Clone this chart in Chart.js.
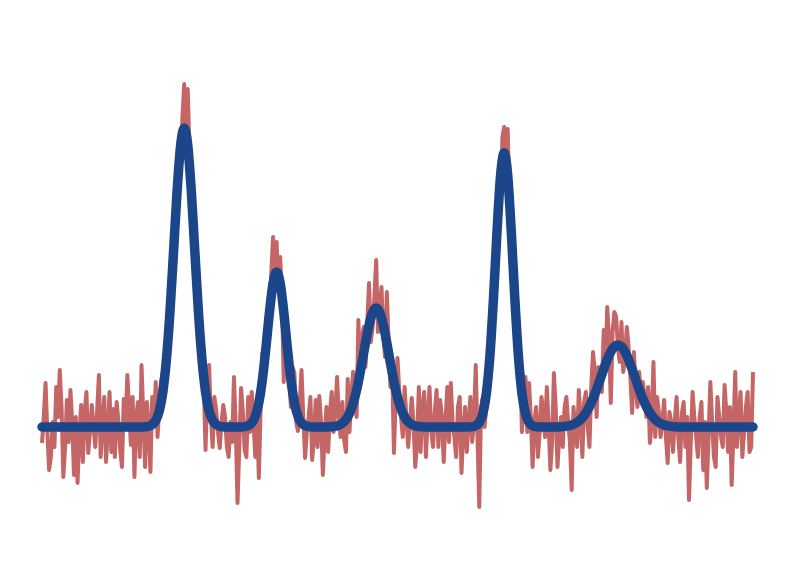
<!DOCTYPE html>
<html lang="en">
<head>
    <meta charset="UTF-8">
    <title>Noisy spectrum with Gaussian fit</title>
    <script src="https://cdn.jsdelivr.net/npm/chart.js"></script>
    <style>
        html, body {
            margin: 0;
            padding: 0;
            background: #ffffff;
        }

        .chart-container {
            width: 795px;
            height: 585px;
        }
    </style>
</head>
<body>
    <div class="chart-container">
        <canvas id="spectrumChart"></canvas>
    </div>

    <script>
        // sample spacing on the x axis (0 .. 100)
        const measuredStep = 0.25;
        const fittedStep = 0.5;

        const measured = [
            -0.16, 0.10, 0.44, -0.05, -0.43, -0.30, 0.05, -0.20, 0.40, 0.10,
            0.57, 0.20, -0.50, -0.20, 0.27, -0.15, 0.37, 0.05, -0.48, 0.10,
            -0.56, -0.10, 0.22, -0.35, 0.15, 0.35, -0.26, -0.05, 0.22, 0.00,
            -0.20, 0.15, 0.52, -0.30, 0.05, 0.30, -0.35, -0.05, 0.35, -0.25,
            0.18, -0.30, 0.25, 0.05, -0.23, -0.40, 0.28, 0.00, 0.52, 0.20,
            -0.18, 0.30, -0.50, 0.10, 0.25, -0.30, 0.62, 0.10, -0.40, 0.25,
            0.00, -0.45, 0.30, 0.05, 0.45, -0.10, 0.20, 0.45, 0.55, 0.30,
            0.62, 1.00, 1.30, 1.20, 1.60, 2.30, 2.50, 2.85, 2.62, 3.10,
            3.43, 2.70, 3.38, 2.75, 2.20, 2.30, 1.90, 1.30, 1.00, 1.15,
            0.80, 0.45, -0.23, 0.40, 0.62, 0.10, -0.20, 0.30, 0.17, -0.05,
            -0.21, 0.05, 0.22, 0.10, -0.20, -0.30, 0.05, -0.15, 0.50, 0.00,
            -0.76, -0.20, 0.39, 0.15, -0.23, -0.30, 0.30, -0.05, 0.35, 0.05,
            -0.30, 0.10, -0.51, 0.20, 0.74, 0.45, 1.00, 0.75, 1.05, 1.55,
            1.90, 1.60, 1.85, 1.40, 1.70, 1.30, 0.45, 1.10, 0.95, 0.55,
            0.20, 0.60, 0.54, 0.05, -0.04, 0.25, 0.57, 0.10, -0.31, -0.05,
            0.10, 0.30, -0.33, -0.10, 0.27, -0.20, 0.31, 0.05, -0.48, -0.10,
            0.20, -0.25, 0.15, 0.35, -0.05, 0.15, 0.50, 0.10, -0.10, 0.25,
            -0.13, -0.25, 0.48, -0.05, 0.30, 0.55, 0.25, 0.10, 1.07, 0.40,
            0.90, 1.00, 0.60, 1.05, 1.44, 0.85, 1.00, 1.30, 1.67, 0.95,
            1.20, 1.40, 0.90, 0.70, 1.35, 0.85, 0.40, 0.60, -0.26, 0.30,
            0.69, 0.35, 0.10, -0.10, 0.40, 0.10, -0.20, 0.05, 0.29, 0.05,
            -0.40, -0.15, 0.40, -0.25, 0.20, 0.35, -0.30, 0.10, 0.40, -0.05,
            -0.20, 0.15, 0.37, -0.20, 0.27, 0.10, -0.35, 0.05, 0.40, -0.15,
            0.44, 0.05, -0.10, -0.30, 0.20, 0.30, -0.46, -0.05, 0.20, -0.25,
            0.05, 0.30, -0.15, 0.05, 0.62, -0.10, -0.80, 0.20, 0.30, 0.00,
            0.20, 0.55, 0.75, 0.85, 1.40, 1.75, 1.95, 2.45, 2.15, 2.90,
            3.00, 2.45, 2.98, 2.20, 1.85, 1.70, 1.30, 0.85, 0.90, 0.70,
            -0.05, 0.25, 0.50, -0.05, 0.44, 0.10, -0.40, 0.05, 0.20, -0.30,
            -0.05, 0.30, 0.15, -0.10, 0.40, 0.05, -0.43, -0.15, 0.54, 0.20,
            -0.40, -0.10, 0.10, -0.20, 0.20, 0.30, 0.05, -0.15, -0.63, 0.20,
            0.00, -0.20, 0.37, 0.10, -0.30, 0.25, 0.35, 0.00, -0.20, 0.40,
            0.75, 0.55, 0.10, 0.60, 0.45, 0.35, 0.97, 0.55, 1.20, 0.90,
            0.24, 0.95, 1.15, 1.10, 0.80, 0.65, 1.05, 0.55, 0.70, 1.00,
            0.80, 0.50, 0.14, 0.75, 0.40, 0.20, 0.55, 0.25, 0.45, 0.30,
            0.10, 0.40, -0.16, 0.05, 0.65, -0.10, 0.30, 0.15, -0.10, 0.05,
            0.27, -0.10, -0.36, 0.15, 0.05, -0.25, 0.06, 0.30, -0.10, -0.35,
            0.14, 0.25, -0.20, 0.10, -0.73, -0.15, 0.35, 0.10, -0.10, -0.30,
            0.10, 0.25, -0.43, 0.05, -0.61, -0.10, 0.45, 0.05, -0.30, -0.40,
            0.30, 0.10, -0.10, -0.20, 0.42, 0.15, -0.25, 0.20, -0.58, -0.05,
            0.55, -0.20, 0.10, 0.35, -0.30, -0.05, 0.20, 0.35, -0.25, -0.20,
            0.55
        ];

        // smooth fitted curve (five peaks)
        const fitted = [
            0, 0, 0, 0, 0, 0, 0, 0, 0, 0,
            0, 0, 0, 0, 0, 0, 0, 0, 0, 0,
            0, 0, 0, 0, 0, 0, 0, 0, 0, 0.002,
            0.008, 0.024, 0.067, 0.162, 0.352, 0.676, 1.155, 1.751, 2.357, 2.817,
            2.99, 2.817, 2.357, 1.751, 1.155, 0.676, 0.352, 0.162, 0.067, 0.024,
            0.008, 0.002, 0, 0, 0, 0, 0, 0.004, 0.014, 0.041,
            0.108, 0.244, 0.475, 0.797, 1.153, 1.439, 1.55, 1.439, 1.153, 0.797,
            0.475, 0.244, 0.108, 0.041, 0.014, 0.004, 0, 0, 0, 0,
            0, 0.002, 0.005, 0.011, 0.025, 0.052, 0.101, 0.180, 0.297, 0.454,
            0.642, 0.841, 1.020, 1.145, 1.19, 1.145, 1.020, 0.841, 0.642, 0.454,
            0.297, 0.180, 0.101, 0.052, 0.025, 0.011, 0.005, 0.002, 0, 0,
            0, 0, 0, 0, 0, 0, 0, 0, 0, 0,
            0, 0.003, 0.013, 0.045, 0.133, 0.336, 0.715, 1.287, 1.958, 2.519,
            2.74, 2.519, 1.958, 1.287, 0.715, 0.336, 0.133, 0.045, 0.013, 0.003,
            0, 0, 0, 0, 0, 0.001, 0.003, 0.006, 0.012, 0.021,
            0.036, 0.059, 0.094, 0.141, 0.205, 0.283, 0.375, 0.477, 0.579, 0.675,
            0.752, 0.802, 0.82, 0.802, 0.752, 0.675, 0.579, 0.477, 0.375, 0.283,
            0.205, 0.141, 0.094, 0.059, 0.036, 0.021, 0.012, 0.006, 0.003, 0.001,
            0, 0, 0, 0, 0, 0, 0, 0, 0, 0,
            0, 0, 0, 0, 0, 0, 0, 0, 0, 0,
            0
        ];

        const toPoints = (arr, step) => arr.map((v, i) => ({ x: i * step, y: v }));

        const ctx = document.getElementById('spectrumChart').getContext('2d');
        new Chart(ctx, {
            type: 'line',
            data: {
                datasets: [
                    {
                        label: 'Fit',
                        data: toPoints(fitted, fittedStep),
                        borderColor: '#1b4689',
                        borderWidth: 9.5,
                        borderCapStyle: 'round',
                        borderJoinStyle: 'round',
                        cubicInterpolationMode: 'monotone',
                        pointRadius: 0,
                        fill: false,
                        clip: false,
                        order: 0
                    },
                    {
                        label: 'Signal',
                        data: toPoints(measured, measuredStep),
                        borderColor: '#c46666',
                        borderWidth: 4,
                        borderJoinStyle: 'round',
                        tension: 0,
                        pointRadius: 0,
                        fill: false,
                        clip: false,
                        order: 1
                    }
                ]
            },
            options: {
                responsive: true,
                maintainAspectRatio: false,
                animation: false,
                layout: {
                    padding: { left: 42, right: 42, top: 0, bottom: 0 }
                },
                plugins: {
                    legend: { display: false },
                    tooltip: { enabled: false }
                },
                scales: {
                    x: { type: 'linear', min: 0, max: 100, display: false },
                    y: { min: -1.58, max: 4.27, display: false }
                }
            }
        });
    </script>
</body>
</html>
